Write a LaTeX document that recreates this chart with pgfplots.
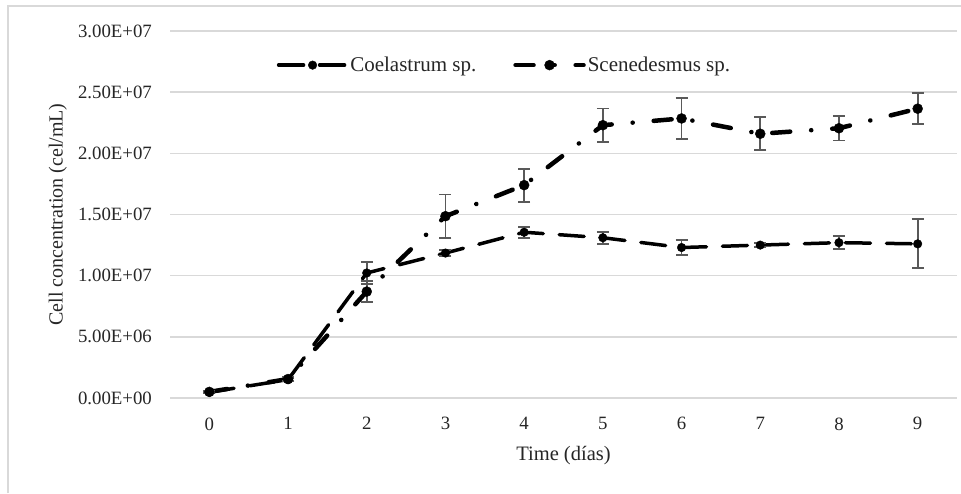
\documentclass[border=0pt]{standalone}
\usepackage{fontspec}
\setmainfont{Liberation Serif}
\usepackage{pgfplots}
\pgfplotsset{compat=1.18}
\begin{document}
\begin{tikzpicture}
\path[use as bounding box] (0,0) rectangle (961pt,493pt);
\draw[black!15, line width=1.5pt] (8pt,0) -- (8pt,487pt) -- (961pt,487pt);
\begin{axis}[
  at={(170pt,95pt)}, anchor=south west,
  scale only axis, width=787pt, height=367pt,
  xmin=-0.5, xmax=9.5, ymin=0, ymax=3e7,
  axis line style={draw=none},
  xtick={0,1,2,3,4,5,6,7,8,9},
  xticklabels={0,1,2,3,4,5,6,7,8,9},
  ytick={0,5e6,1e7,1.5e7,2e7,2.5e7,3e7},
  yticklabels={0.00E+00,5.00E+06,1.00E+07,1.50E+07,2.00E+07,2.50E+07,3.00E+07},
  scaled y ticks=false,
  major tick length=0pt,
  ymajorgrids, grid style={black!15, line width=1.5pt},
  yticklabel style={font=\fontsize{18.8}{18.8}\selectfont, text=black!85, anchor=east, inner sep=0pt, xshift=-18pt},
  xticklabel style={font=\fontsize{18.8}{18.8}\selectfont, text=black!85, yshift=-16pt},
  xlabel={Time (días)},
  ylabel={Cell concentration (cel/mL)},
  xlabel style={font=\fontsize{20.5}{20.5}\selectfont, text=black!85, at={(axis description cs:0.5,-0.157)}, anchor=center},
  ylabel style={font=\fontsize{20}{20}\selectfont, text=black!85, at={(axis description cs:-0.1425,0.5)}, anchor=center},
  legend style={at={(axis description cs:0.425,0.907)}, anchor=center, draw=none, fill=none,
    font=\fontsize{21}{21}\selectfont, text=black!85,
    /tikz/every even column/.append style={column sep=35pt}},
  legend columns=2,
  legend cell align=left,
  legend image code/.code={\draw[mark repeat=2, mark phase=2, #1] plot coordinates {(0pt,0pt) (34pt,0pt) (68pt,0pt)};},
  error bars/y dir=both, error bars/y explicit,
  error bars/error bar style={solid, line width=1.8pt, black!65, line cap=butt},
  error bars/error mark options={rotate=90, mark size=6pt, solid, line width=1.8pt, black!65},
]
\addplot[black, line width=3.5pt, line cap=round, dash pattern=on 25pt off 16pt,
  mark=*, mark size=4.3pt, mark options={solid, fill=black, line width=0.4pt}]
  coordinates {
  (0,0.47e6) +- (0,0.05e6)
  (1,1.50e6) +- (0,0.1e6)
  (2,10.22e6) +- (0,0.9e6)
  (3,11.85e6) +- (0,0.25e6)
  (4,13.55e6) +- (0,0.45e6)
  (5,13.10e6) +- (0,0.5e6)
  (6,12.30e6) +- (0,0.6e6)
  (7,12.50e6) +- (0,0.15e6)
  (8,12.70e6) +- (0,0.55e6)
  (9,12.60e6) +- (0,2.0e6)
  };
\addlegendentry{Coelastrum sp.}
\addplot[black, line width=4.5pt, line cap=round, dash pattern=on 18pt off 21pt on 0.1pt off 21pt,
  mark=*, mark size=5pt, mark options={solid, fill=black, line width=0.4pt}]
  coordinates {
  (0,0.50e6) +- (0,0.05e6)
  (1,1.55e6) +- (0,0.15e6)
  (2,8.70e6) +- (0,0.85e6)
  (3,14.86e6) +- (0,1.77e6)
  (4,17.40e6) +- (0,1.35e6)
  (5,22.30e6) +- (0,1.37e6)
  (6,22.85e6) +- (0,1.70e6)
  (7,21.60e6) +- (0,1.35e6)
  (8,22.05e6) +- (0,1.00e6)
  (9,23.65e6) +- (0,1.27e6)
  };
\addlegendentry{Scenedesmus sp.}
\end{axis}
\end{tikzpicture}
\end{document}
